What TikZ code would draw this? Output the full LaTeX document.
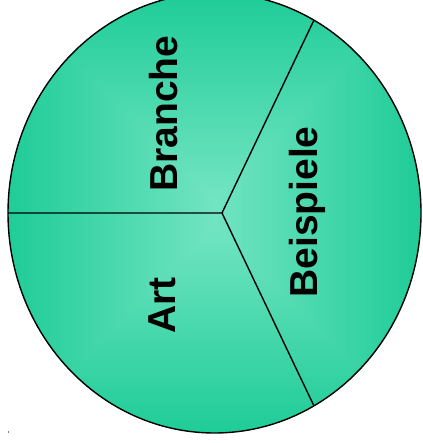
\documentclass[tikz,border=0pt]{standalone}
\usepackage{fontspec}
\setmainfont{Liberation Sans}
\definecolor{outerc}{HTML}{1FCC98}
\definecolor{innerc}{HTML}{72E4C2}
\begin{document}
\begin{tikzpicture}[x=1pt,y=-1pt,
  seg/.style={draw=black,line width=1.4pt},
  lbl/.style={font=\bfseries\fontsize{39}{41}\selectfont,rotate=90,anchor=base,inner sep=0pt}]
\useasboundingbox (0,0) rectangle (422,443);
\clip (0,0) rectangle (422,443);
\begin{scope}
\clip (214.5,213) ellipse [x radius=206.5, y radius=220];
\foreach \i in {0,...,103}{
  \pgfmathsetmacro{\p}{\i*100/103}
  \pgfmathsetmacro{\d}{\i*2}
  \fill[innerc!\p!outerc] (8+\d,-7+\d) rectangle (421-\d,433-\d);
}
\end{scope}
\draw[line width=1.4pt] (214.5,213) ellipse [x radius=206.5, y radius=220];
\coordinate (c) at (222,213);
\coordinate (l) at (8,213);
\coordinate (tr) at (314,20);
\coordinate (br) at (314,406);
\draw[seg] (l) -- (c) -- (tr);
\draw[seg] (c) -- (br);
\node[lbl] (branche) at (177,113.5) {Branche};
\node[lbl] (beispiele) at (317.5,212) {Beispiele};
\node[lbl] (art) at (175.5,305.5) {Art};
\fill[gray] (7.5,431) rectangle (8.5,433);
\end{tikzpicture}
\end{document}
